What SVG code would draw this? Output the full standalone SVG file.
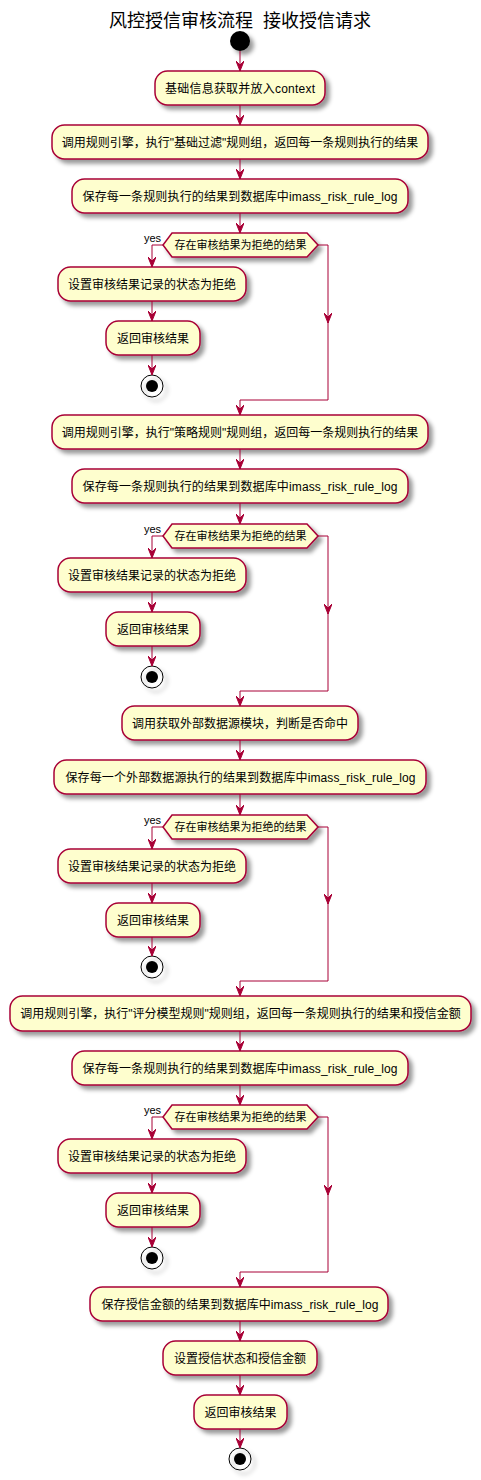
<svg xmlns="http://www.w3.org/2000/svg" width="481" height="1480" viewBox="0 0 481 1480">
<defs>
<filter id="sh" x="-1" y="-1" width="300%" height="300%">
<feGaussianBlur result="blurOut" stdDeviation="2"/>
<feColorMatrix type="matrix" in="blurOut" result="blurOut2" values="0 0 0 0 0 0 0 0 0 0 0 0 0 0 0 0 0 0 .4 0"/>
<feOffset result="blurOut3" in="blurOut2" dx="4" dy="4"/>
<feBlend in="SourceGraphic" in2="blurOut3" mode="normal"/>
</filter>
<marker id="ar" markerUnits="userSpaceOnUse" markerWidth="10" markerHeight="8" refX="10" refY="4" orient="auto" viewBox="0 0 10 8">
<path d="M0,0 L10,4 L0,8 L4,4 Z" fill="#A80036" stroke="#A80036" stroke-width="1"/>
</marker>
</defs>
<style>
.box{fill:#FEFECE;stroke:#A80036;stroke-width:1.5;filter:url(#sh)}
.dia{fill:#FEFECE;stroke:#A80036;stroke-width:1.5;filter:url(#sh)}
.t{font-family:"Liberation Sans","Noto Sans CJK SC",sans-serif;font-size:12px;text-anchor:middle;fill:#000}
.dt{font-family:"Liberation Sans","Noto Sans CJK SC",sans-serif;font-size:11px;text-anchor:middle;fill:#000}
.yes{font-family:"Liberation Sans","Noto Sans CJK SC",sans-serif;font-size:11px;fill:#000}
.title{font-family:"Liberation Sans","Noto Sans CJK SC",sans-serif;font-size:18px;text-anchor:middle;fill:#000}
.ln{stroke:#A80036;stroke-width:1;fill:none;marker-end:url(#ar)}
.start{fill:#000;filter:url(#sh)}
.stopo{fill:none;stroke:#000;stroke-width:1;filter:url(#sh)}
.stopi{fill:#000}
</style>
<rect width="481" height="1480" fill="#FFFFFF"/>
<text class="title" x="240" y="27" xml:space="preserve">风控授信审核流程  接收授信请求</text>

<g id="start"><circle class="start" cx="240" cy="41" r="10"/></g>

<g id="n1"><rect class="box" x="155" y="71" width="170" height="34" rx="12.5"/><text class="t" x="240" y="92.5" textLength="150" lengthAdjust="spacing">基础信息获取并放入context</text></g>
<g id="n2"><rect class="box" x="52" y="125" width="376" height="34" rx="12.5"/><text class="t" x="240" y="146.5">调用规则引擎，执行"基础过滤"规则组，返回每一条规则执行的结果</text></g>
<g id="n3"><rect class="box" x="72" y="179" width="336" height="34" rx="12.5"/><text class="t" x="240" y="200.5" textLength="315" lengthAdjust="spacing">保存每一条规则执行的结果到数据库中imass_risk_rule_log</text></g>
<g id="d1"><polygon class="dia" points="172,233 307,233 318,245 307,257 172,257 163,245"/><text class="dt" x="240.5" y="249">存在审核结果为拒绝的结果</text><text class="yes" x="144" y="242">yes</text></g>
<g id="n4"><rect class="box" x="58" y="267" width="188" height="34" rx="12.5"/><text class="t" x="152" y="288.5">设置审核结果记录的状态为拒绝</text></g>
<g id="n5"><rect class="box" x="106" y="321" width="94" height="34" rx="12.5"/><text class="t" x="153" y="342.5">返回审核结果</text></g>
<g id="stop1"><circle class="stopo" cx="152" cy="386" r="11"/><circle class="stopi" cx="152" cy="386" r="6"/></g>

<g id="n6"><rect class="box" x="52" y="415" width="376" height="34" rx="12.5"/><text class="t" x="240" y="436.5">调用规则引擎，执行"策略规则"规则组，返回每一条规则执行的结果</text></g>
<g id="n7"><rect class="box" x="72" y="469" width="336" height="34" rx="12.5"/><text class="t" x="240" y="490.5" textLength="315" lengthAdjust="spacing">保存每一条规则执行的结果到数据库中imass_risk_rule_log</text></g>
<g id="d2"><polygon class="dia" points="172,524 307,524 318,536 307,548 172,548 163,536"/><text class="dt" x="240.5" y="540">存在审核结果为拒绝的结果</text><text class="yes" x="144" y="533">yes</text></g>
<g id="n8"><rect class="box" x="58" y="558" width="188" height="34" rx="12.5"/><text class="t" x="152" y="579.5">设置审核结果记录的状态为拒绝</text></g>
<g id="n9"><rect class="box" x="106" y="612" width="94" height="34" rx="12.5"/><text class="t" x="153" y="633.5">返回审核结果</text></g>
<g id="stop2"><circle class="stopo" cx="152" cy="677" r="11"/><circle class="stopi" cx="152" cy="677" r="6"/></g>

<g id="n10"><rect class="box" x="122" y="706" width="236" height="34" rx="12.5"/><text class="t" x="240" y="727.5">调用获取外部数据源模块，判断是否命中</text></g>
<g id="n11"><rect class="box" x="54" y="760" width="372" height="34" rx="12.5"/><text class="t" x="240.5" y="781.5" textLength="350" lengthAdjust="spacing">保存每一个外部数据源执行的结果到数据库中imass_risk_rule_log</text></g>
<g id="d3"><polygon class="dia" points="172,815 307,815 318,827 307,839 172,839 163,827"/><text class="dt" x="240.5" y="831">存在审核结果为拒绝的结果</text><text class="yes" x="144" y="824">yes</text></g>
<g id="n12"><rect class="box" x="58" y="849" width="188" height="34" rx="12.5"/><text class="t" x="152" y="870.5">设置审核结果记录的状态为拒绝</text></g>
<g id="n13"><rect class="box" x="106" y="903" width="94" height="34" rx="12.5"/><text class="t" x="153" y="924.5">返回审核结果</text></g>
<g id="stop3"><circle class="stopo" cx="152" cy="967" r="11"/><circle class="stopi" cx="152" cy="967" r="6"/></g>

<g id="n14"><rect class="box" x="10" y="996" width="461" height="35" rx="12.5"/><text class="t" x="240.5" y="1018">调用规则引擎，执行"评分模型规则"规则组，返回每一条规则执行的结果和授信金额</text></g>
<g id="n15"><rect class="box" x="72" y="1051" width="336" height="34" rx="12.5"/><text class="t" x="240" y="1072.5" textLength="315" lengthAdjust="spacing">保存每一条规则执行的结果到数据库中imass_risk_rule_log</text></g>
<g id="d4"><polygon class="dia" points="172,1105 307,1105 318,1117 307,1129 172,1129 163,1117"/><text class="dt" x="240.5" y="1121">存在审核结果为拒绝的结果</text><text class="yes" x="144" y="1114">yes</text></g>
<g id="n16"><rect class="box" x="58" y="1139" width="188" height="34" rx="12.5"/><text class="t" x="152" y="1160.5">设置审核结果记录的状态为拒绝</text></g>
<g id="n17"><rect class="box" x="106" y="1193" width="94" height="34" rx="12.5"/><text class="t" x="153" y="1214.5">返回审核结果</text></g>
<g id="stop4"><circle class="stopo" cx="152" cy="1258" r="11"/><circle class="stopi" cx="152" cy="1258" r="6"/></g>

<g id="n18"><rect class="box" x="90" y="1287" width="298" height="34" rx="12.5"/><text class="t" x="240" y="1308.5" textLength="277" lengthAdjust="spacing">保存授信金额的结果到数据库中imass_risk_rule_log</text></g>
<g id="n19"><rect class="box" x="163" y="1341" width="154" height="34" rx="12.5"/><text class="t" x="240" y="1362.5">设置授信状态和授信金额</text></g>
<g id="n20"><rect class="box" x="194" y="1395" width="93" height="34" rx="12.5"/><text class="t" x="240.5" y="1416.5">返回审核结果</text></g>
<g id="end"><circle class="stopo" cx="240" cy="1459" r="11"/><circle class="stopi" cx="240" cy="1459" r="6"/></g>

<g id="connectors">
<path class="ln" d="M240,51 L240,71"/>
<path class="ln" d="M240,105 L240,125"/>
<path class="ln" d="M240,159 L240,179"/>
<path class="ln" d="M240,213 L240,233"/>
<path class="ln" d="M163,245 L152,245 L152,267"/>
<path class="ln" d="M152,301 L152,321"/>
<path class="ln" d="M152,355 L152,375"/>
<path class="ln" d="M318,245 L328,245 L328,323"/>
<path class="ln" d="M328,322 L328,400 L240,400 L240,415"/>

<path class="ln" d="M240,449 L240,469"/>
<path class="ln" d="M240,503 L240,524"/>
<path class="ln" d="M163,536 L152,536 L152,558"/>
<path class="ln" d="M152,592 L152,612"/>
<path class="ln" d="M152,646 L152,666"/>
<path class="ln" d="M318,536 L328,536 L328,614"/>
<path class="ln" d="M328,613 L328,691 L240,691 L240,706"/>

<path class="ln" d="M240,740 L240,760"/>
<path class="ln" d="M240,794 L240,815"/>
<path class="ln" d="M163,827 L152,827 L152,849"/>
<path class="ln" d="M152,883 L152,903"/>
<path class="ln" d="M152,937 L152,956"/>
<path class="ln" d="M318,827 L328,827 L328,904"/>
<path class="ln" d="M328,903 L328,981 L240,981 L240,996"/>

<path class="ln" d="M240,1031 L240,1051"/>
<path class="ln" d="M240,1085 L240,1105"/>
<path class="ln" d="M163,1117 L152,1117 L152,1139"/>
<path class="ln" d="M152,1173 L152,1193"/>
<path class="ln" d="M152,1227 L152,1247"/>
<path class="ln" d="M318,1117 L328,1117 L328,1195"/>
<path class="ln" d="M328,1194 L328,1272 L240,1272 L240,1287"/>

<path class="ln" d="M240,1321 L240,1341"/>
<path class="ln" d="M240,1375 L240,1395"/>
<path class="ln" d="M240,1429 L240,1448"/>
</g>
</svg>
